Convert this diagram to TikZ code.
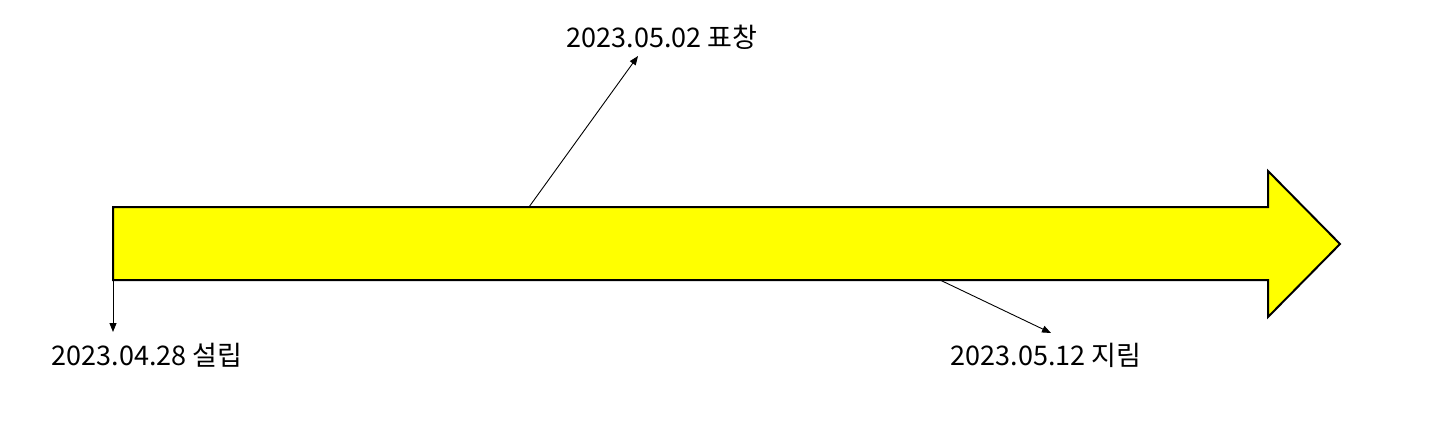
\documentclass[tikz,border=0pt]{standalone}
\usepackage{fontspec}
\setmainfont{Noto Sans CJK KR}
\usetikzlibrary{arrows.meta}
\definecolor{yel}{RGB}{255,255,0}
\tikzset{
  lbl/.style={inner sep=0pt, font=\fontsize{27}{32}\selectfont, text=black},
  conn/.style={draw=black, line width=0.9pt, -{Triangle[length=9pt,width=7pt]}},
  bigarrow/.style={draw=black, fill=yel, line width=2pt, line join=miter}
}
\begin{document}
\begin{tikzpicture}[x=1pt,y=-1pt]
\useasboundingbox (0,0) rectangle (1442,423);
\draw[bigarrow] (113,207) -- (1268,207) -- (1268,171) -- (1340,244) -- (1268,317) -- (1268,280) -- (113,280) -- cycle;
\coordinate (s1) at (113,280);
\coordinate (e1) at (113,332);
\coordinate (s2) at (529,207);
\coordinate (e2) at (638,56);
\coordinate (s3) at (940,280);
\coordinate (e3) at (1051,333);
\node[lbl] (t1) at (147,355) {2023.04.28 설립};
\node[lbl] (t2) at (662,37) {2023.05.02 표창};
\node[lbl] (t3) at (1046,355) {2023.05.12 지림};
\draw[conn] (s1) -- (e1);
\draw[conn] (s2) -- (e2);
\draw[conn] (s3) -- (e3);
\end{tikzpicture}
\end{document}
